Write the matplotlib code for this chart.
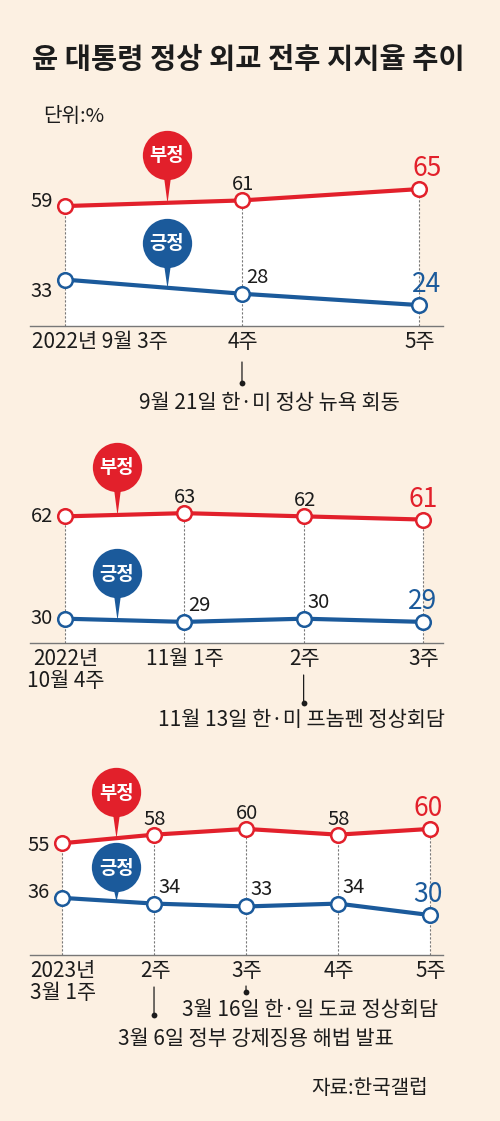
import numpy as np
import matplotlib
matplotlib.use('Agg')
import matplotlib.pyplot as plt
from matplotlib.transforms import offset_copy, blended_transform_factory

plt.rcParams['font.family'] = ['Noto Sans CJK KR', 'DejaVu Sans']

# ---------------- data ----------------
title = '윤 대통령 정상 외교 전후 지지율 추이'
unit_text = '단위:%'
source_text = '자료:한국갤럽'
neg_name = '부정'
pos_name = '긍정'

p1_labels = ['2022년 9월 3주', '4주', '5주']
p1_neg = [59, 61, 65]
p1_pos = [33, 28, 24]
p1_events = [(1, '9월 21일 한·미 정상 뉴욕 회동')]

p2_labels = ['2022년\n10월 4주', '11월 1주', '2주', '3주']
p2_neg = [62, 63, 62, 61]
p2_pos = [30, 29, 30, 29]
p2_events = [(2, '11월 13일 한·미 프놈펜 정상회담')]

p3_labels = ['2023년\n3월 1주', '2주', '3주', '4주', '5주']
p3_neg = [55, 58, 60, 58, 60]
p3_pos = [36, 34, 33, 34, 30]
p3_events = [(2, '3월 16일 한·일 도쿄 정상회담'), (1, '3월 6일 정부 강제징용 해법 발표')]

# ---------------- style ----------------
BG = '#fcf0e2'
RED = '#e2202b'
BLUE = '#1b5a9b'
GRAY = '#777777'
TXT = '#1c1c1c'
W, H = 500, 1121
FS_VAL = 14.5
FS_LAST = 19
FS_TICK = 15
FS_EVENT = 15

fig = plt.figure(figsize=(W / 100, H / 100), dpi=100)
fig.patch.set_facecolor(BG)


def px_axes(left, right, top, bottom):
    return fig.add_axes([left / W, 1 - bottom / H, (right - left) / W, (bottom - top) / H])


def draw_panel(labels, neg, pos, events, lay):
    ax = px_axes(30, 443, lay['top'], lay['bottom'])
    ax.set_facecolor('none')
    ax.set_xlim(*lay['xlim'])
    ax.set_ylim(*lay['ylim'])
    for s in ['top', 'left', 'right']:
        ax.spines[s].set_visible(False)
    ax.spines['bottom'].set_color(GRAY)
    ax.spines['bottom'].set_linewidth(1.0)
    ax.set_xticks([])
    ax.set_yticks([])

    x = np.arange(len(neg))
    y0 = lay['ylim'][0]
    ax.fill_between(x, neg, y0, color='white', lw=0, zorder=0)
    ax.vlines(x, y0, neg, color=GRAY, lw=0.8, linestyles=(0, (2.0, 1.6)), zorder=1)

    for vals, col in [(neg, RED), (pos, BLUE)]:
        ax.plot(x, vals, color=col, lw=3.0, zorder=3, solid_capstyle='round')
        ax.plot(x, vals, 'o', ms=10.5, mfc='white', mec=col, mew=1.8, zorder=4)

    # value labels
    n = len(neg)
    for series, col, kind in [(neg, RED, 'neg'), (pos, BLUE, 'pos')]:
        for i, v in enumerate(series):
            if i == 0:
                dy = lay['first_dy'][kind]
                ax.annotate(f'{v}', xy=(i, v), xytext=(-12, dy), textcoords='offset pixels',
                            ha='right', va='center', fontsize=FS_VAL, color=TXT, zorder=6)
            elif i == n - 1:
                ax.annotate(f'{v}', xy=(i, v), xytext=(lay['last_dx'], 13), textcoords='offset pixels',
                            ha='center', va='baseline', fontsize=FS_LAST, color=col, zorder=6)
            elif kind == 'neg':
                ax.annotate(f'{v}', xy=(i, v), xytext=(1, 10), textcoords='offset pixels',
                            ha='center', va='baseline', fontsize=FS_VAL, color=TXT, zorder=6)
            else:
                ax.annotate(f'{v}', xy=(i, v), xytext=(4, 11), textcoords='offset pixels',
                            ha='left', va='baseline', fontsize=FS_VAL, color=TXT, zorder=6)

    # pin bubbles
    bx = lay['bubble_x']
    for series, col, name, dist in [(neg, RED, neg_name, lay['bubble_d'][0]),
                                    (pos, BLUE, pos_name, lay['bubble_d'][1])]:
        yt = np.interp(bx, x, series)
        h = dist - 14
        verts = [(-4.5, h), (4.5, h), (0, 0), (-4.5, h)]
        ax.plot([bx], [yt], marker=verts, ms=2 * h / 1.389, color=col, mew=0, zorder=5)
        tr = offset_copy(ax.transData, fig=fig, x=0, y=dist, units='dots')
        ax.plot([bx], [yt], marker='o', ms=35.5, color=col, mew=0, transform=tr, zorder=5)
        ax.annotate(name, xy=(bx, yt), xytext=(0, dist - 1), textcoords='offset pixels',
                    ha='center', va='center', fontsize=13.5, fontweight='bold', color='white', zorder=6)

    # category labels
    bt = blended_transform_factory(ax.transData, ax.transAxes)
    for i, lab in enumerate(labels):
        ha = 'center'
        dx = 0
        if i == 0 and lay.get('first_left'):
            ha = 'left'
            dx = -34
        ax.annotate(lab, xy=(i, 0), xycoords=bt, xytext=(dx + 1, -5), textcoords='offset pixels',
                    ha=ha, va='top', fontsize=FS_TICK, color=TXT, linespacing=1.0,
                    annotation_clip=False)

    # events
    for (ei, etext), ev in zip(events, lay['events']):
        line_top, dot_y, text_y, text_dx = ev
        ax.annotate('', xy=(ei, 0), xycoords=offset_copy(bt, fig=fig, y=-dot_y, units='dots'),
                    xytext=(ei, 0), textcoords=offset_copy(bt, fig=fig, y=-line_top, units='dots'),
                    arrowprops=dict(arrowstyle='-', shrinkA=0, shrinkB=0, lw=0.9, color=TXT),
                    annotation_clip=False)
        ax.plot([ei], [0], 'o', ms=4.2, color=TXT, mew=0, clip_on=False,
                transform=offset_copy(bt, fig=fig, y=-dot_y, units='dots'))
        ax.annotate(etext, xy=(ei, 0), xycoords=bt, xytext=(text_dx, -text_y),
                    textcoords='offset pixels', ha='center', va='center', fontsize=FS_EVENT,
                    color=TXT, annotation_clip=False)
    return ax


lay1 = dict(top=100, bottom=326, xlim=(-0.198, 2.136), ylim=(16.6, 96.5),
            first_dy={'neg': 5, 'pos': -12}, last_dx=8, first_left=True,
            bubble_x=0.576, bubble_d=(48, 45),
            events=[(36, 57, 77, 27)])
lay2 = dict(top=430, bottom=643, xlim=(-0.293, 3.168), ylim=(22.4, 89.0),
            first_dy={'neg': 0, 'pos': 0}, last_dx=0, first_left=False,
            bubble_x=0.436, bubble_d=(48, 47),
            events=[(32, 60, 77, -2)])
lay3 = dict(top=760, bottom=955, xlim=(-0.348, 4.141), ylim=(16.1, 84.0),
            first_dy={'neg': -2, 'pos': 5}, last_dx=-2, first_left=False,
            bubble_x=0.587, bubble_d=(46, 34),
            events=[(31, 37, 55, 64), (32, 60, 84, 102)])

draw_panel(p1_labels, p1_neg, p1_pos, p1_events, lay1)
draw_panel(p2_labels, p2_neg, p2_pos, p2_events, lay2)
draw_panel(p3_labels, p3_neg, p3_pos, p3_events, lay3)

fig.text(248 / W, 1 - 60 / H, title, ha='center', va='center', fontsize=20.5,
         fontweight='bold', color=TXT)
fig.text(43 / W, 1 - 116 / H, unit_text, ha='left', va='center', fontsize=14.5, color=TXT)
fig.text(428 / W, 1 - 1088 / H, source_text, ha='right', va='center', fontsize=14.5, color=TXT)

fig.savefig('out.png', dpi=100, facecolor=BG)
